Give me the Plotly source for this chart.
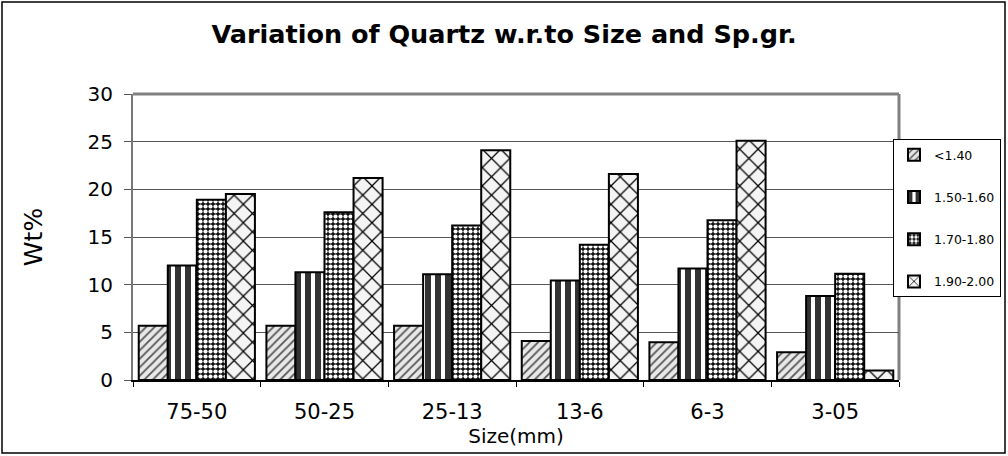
import plotly.graph_objects as go

sizes = ["75-50", "50-25", "25-13", "13-6", "6-3", "3-05"]
series_names = ["<1.40", "1.50-1.60", "1.70-1.80", "1.90-2.00"]
wt_lt140 = [5.7, 5.7, 5.7, 4.1, 3.95, 2.9]
wt_150_160 = [12.0, 11.3, 11.1, 10.45, 11.7, 8.8]
wt_170_180 = [18.9, 17.6, 16.2, 14.2, 16.75, 11.15]
wt_190_200 = [19.5, 21.2, 24.1, 21.6, 25.1, 1.0]
y_ticks = [0, 5, 10, 15, 20, 25, 30]

series_values = [wt_lt140, wt_150_160, wt_170_180, wt_190_200]
patterns = [
    dict(shape="/", fgcolor="#555555", bgcolor="#e8e8e8", size=6, solidity=0.3, fillmode="replace"),
    dict(shape="|", fgcolor="#333333", bgcolor="#ffffff", size=10, solidity=0.6, fillmode="replace"),
    dict(shape=".", fgcolor="#ffffff", bgcolor="#111111", size=5, solidity=0.55, fillmode="replace"),
    dict(shape="x", fgcolor="#000000", bgcolor="#f4f4f4", size=13, solidity=0.18, fillmode="replace"),
]

fig = go.Figure()
for i, (name, vals, pat) in enumerate(zip(series_names, series_values, patterns)):
    fig.add_trace(go.Bar(
        x=sizes, y=vals, name=name, legendgroup=f"g{i}",
        marker=dict(color="white", pattern=pat, line=dict(color="black", width=2)),
    ))

# plot area geometry in pixels
L, R, T, B = 133, 899, 94, 380
W, H = 1008, 456
pw, ph = R - L, B - T

def px(x):
    return (x - L) / pw

def py(y):
    return (B - y) / ph

FONT = "DejaVu Sans, Liberation Sans, Arial"

fig.update_layout(
    width=W, height=H,
    margin=dict(l=L, r=W - R, t=T, b=H - B, pad=0, autoexpand=False),
    paper_bgcolor="white", plot_bgcolor="white",
    barmode="group", bargap=0.09, bargroupgap=0,
    font=dict(family=FONT, color="black"),
    title=dict(text="<b>Variation of Quartz w.r.to Size and Sp.gr.</b>",
               x=0.5, xanchor="center", y=1 - 34 / H, yanchor="middle",
               font=dict(size=25.5, color="black")),
    xaxis=dict(
        type="category",
        title=dict(text="Size(mm)", font=dict(size=20), standoff=1),
        tickfont=dict(size=21), ticklabelstandoff=12,
        showline=True, linecolor="black", linewidth=2,
        ticks="outside", tickson="boundaries", ticklen=5, tickcolor="black",
        showgrid=False, mirror=False,
    ),
    yaxis=dict(
        title=dict(text="Wt%", font=dict(size=25), standoff=38),
        range=[0, 30], tickvals=y_ticks, tickfont=dict(size=20),
        ticklabelstandoff=7,
        showline=True, linecolor="#777777", linewidth=2,
        ticks="outside", ticklen=7, tickcolor="#555555",
        showgrid=True, gridcolor="#555555", gridwidth=1.2, zeroline=False,
    ),
    legend=dict(
        x=px(893), xanchor="left", y=py(139), yanchor="top",
        bordercolor="black", borderwidth=1, bgcolor="white",
        font=dict(size=12.5), tracegroupgap=23, itemwidth=30,
        traceorder="grouped",
    ),
    shapes=[
        # plot area frame (top and right edges)
        dict(type="line", xref="paper", yref="paper", x0=0, x1=1, y0=1, y1=1,
             line=dict(color="#808080", width=3)),
        dict(type="line", xref="paper", yref="paper", x0=1, x1=1, y0=0, y1=1,
             line=dict(color="#808080", width=3), layer="below"),
        # outer chart border
        dict(type="rect", xref="paper", yref="paper",
             x0=px(2), x1=px(1005), y0=py(453), y1=py(2),
             line=dict(color="black", width=1.5), fillcolor="rgba(0,0,0,0)"),
    ],
)

fig.write_html("out.html")
